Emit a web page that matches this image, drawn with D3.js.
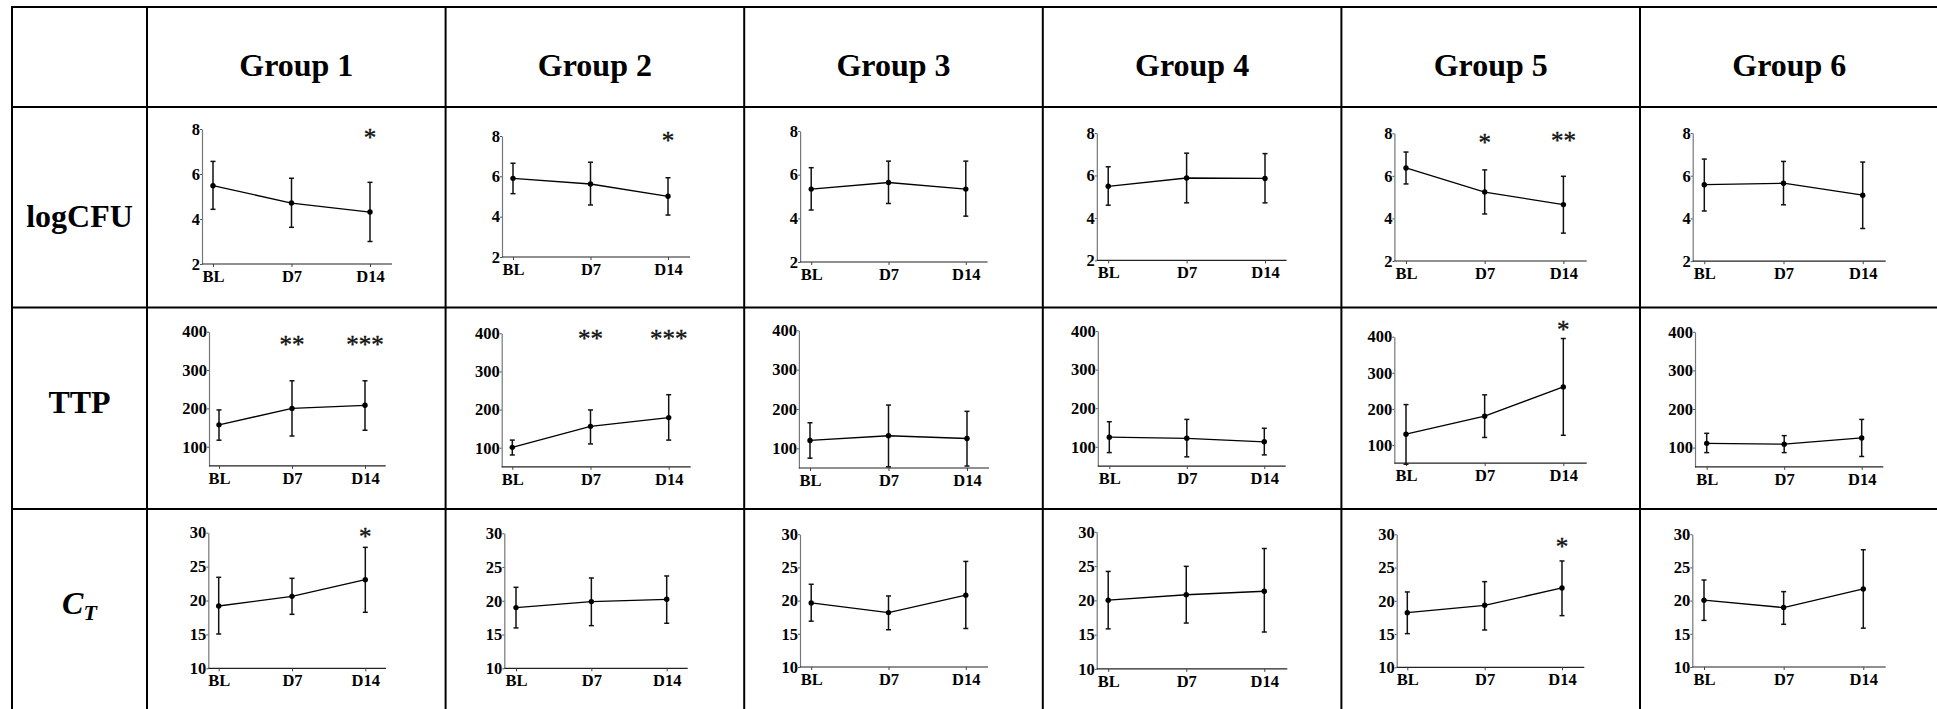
<!DOCTYPE html>
<html>
<head>
<meta charset="utf-8">
<script src="https://cdn.jsdelivr.net/npm/d3@7"></script>
<style>
  html, body { margin: 0; padding: 0; background: #fff; }
  svg { display: block; }
  text { font-family: "Liberation Serif", "Times New Roman", serif; }
</style>
</head>
<body>
<svg id="chart" width="1937" height="709"></svg>
<script>
// ---- data -------------------------------------------------------------
const categories = ["BL", "D7", "D14"];
const groups = ["Group 1", "Group 2", "Group 3", "Group 4", "Group 5", "Group 6"];
const metrics = ["logCFU", "TTP", "CT"];

const yDomains = { logCFU: [2, 8], TTP: [50, 400], CT: [10, 30] };
const yTicks = { logCFU: [2, 4, 6, 8], TTP: [100, 200, 300, 400], CT: [10, 15, 20, 25, 30] };

// mean, lower and upper end of the error bar, one row per group
const logCFUMean = [[5.48, 4.71, 4.31], [5.90, 5.62, 5.01], [5.34, 5.64, 5.34], [5.49, 5.88, 5.86], [6.37, 5.24, 4.65], [5.58, 5.65, 5.09]];
const logCFULow  = [[4.43, 3.63, 3.00], [5.14, 4.58, 4.08], [4.38, 4.68, 4.10], [4.60, 4.71, 4.71], [5.62, 4.21, 3.31], [4.35, 4.64, 3.53]];
const logCFUHigh = [[6.56, 5.81, 5.63], [6.65, 6.70, 5.93], [6.32, 6.62, 6.62], [6.41, 7.05, 7.03], [7.12, 6.28, 5.98], [6.78, 6.67, 6.64]];

const ttpMean = [[157, 200, 208], [101, 156, 179], [120, 132, 125], [125, 122, 113], [130, 180, 261], [111, 109, 125]];
const ttpLow  = [[117, 128, 143], [81, 110, 120], [75, 53, 55], [85, 74, 79], [47, 121, 127], [87, 87, 77]];
const ttpHigh = [[196, 272, 272], [120, 199, 239], [165, 210, 194], [165, 171, 148], [212, 239, 395], [137, 131, 173]];

const ctMean = [[19.19, 20.61, 23.07], [18.99, 19.88, 20.22], [19.65, 18.19, 20.82], [20.03, 20.82, 21.33], [18.22, 19.32, 21.93], [20.06, 18.95, 21.75]];
const ctLow  = [[15.06, 17.96, 18.26], [15.98, 16.32, 16.67], [16.90, 15.61, 15.80], [15.84, 16.69, 15.38], [15.06, 15.61, 17.77], [17.02, 16.43, 15.85]];
const ctHigh = [[23.42, 23.27, 27.84], [22.00, 23.38, 23.68], [22.46, 20.70, 25.90], [24.22, 24.96, 27.56], [21.33, 22.88, 25.99], [23.10, 21.35, 27.66]];

// significance marks: metric, group index, category, mark, height in data units
const sigMetric = ["logCFU", "logCFU", "logCFU", "logCFU", "TTP", "TTP", "TTP", "TTP", "TTP", "CT", "CT"];
const sigGroup  = [0, 1, 4, 4, 0, 0, 1, 1, 4, 0, 4];
const sigCat    = ["D14", "D14", "D7", "D14", "D7", "D14", "D7", "D14", "D14", "D14", "D14"];
const sigMark   = ["*", "*", "*", "**", "**", "***", "**", "***", "*", "*", "*"];
const sigLevel  = [7.82, 8.0, 7.77, 7.87, 378, 378, 398, 398, 432, 30.1, 28.84];

const series = {
  logCFU: { mean: logCFUMean, low: logCFULow, high: logCFUHigh },
  TTP:    { mean: ttpMean,    low: ttpLow,    high: ttpHigh },
  CT:     { mean: ctMean,     low: ctLow,     high: ctHigh }
};

// ---- layout -----------------------------------------------------------
const W = 1937, H = 709;
const tableLeft = 12, firstColX = 147, colW = 298.6;
const rowLines = [7, 107, 307.5, 509, 710];
// plot frame inside each cell, relative to the cell's top-left corner:
// [y-axis x, x-axis end, y of top value, y of bottom value, first category x, last category x]
const frames = {
  logCFU: [[55, 245, 22, 157, 66, 223], [56.4, 244.4, 29, 150, 67.4, 222.4], [55.9, 243.4, 24, 155, 67, 221.6],
           [54, 243.7, 26, 153.4, 65.4, 222.2], [53, 245.3, 26.3, 154, 64.6, 222], [52.7, 245.7, 26, 154.2, 64.3, 222.7]],
  TTP:    [[62, 238.7, 24.2, 158.4, 72, 218], [56.1, 245.1, 25.8, 159.3, 66.7, 223.1], [54.7, 244.8, 22.8, 160.5, 65.8, 222.8],
           [55, 242.9, 23.5, 158.6, 66.5, 221.5], [52.9, 245.3, 29.2, 155.6, 64.6, 221.9], [55, 243.3, 24.3, 159.4, 66.7, 221.7]],
  CT:     [[61.3, 239, 23.7, 159.3, 71.7, 218.3], [58.7, 242.1, 24.3, 159.3, 70.4, 221.1], [55.8, 243.8, 25.2, 158, 67, 221.6],
           [53.9, 244.5, 22.8, 159.9, 65.4, 221.5], [55.3, 242.9, 25.3, 158.3, 65.9, 220.6], [52.3, 245.7, 25.2, 158, 64, 223.3]]
};

const svg = d3.select("#chart");
svg.append("rect").attr("width", W).attr("height", H).attr("fill", "#fff");

const colX = i => firstColX + i * colW;

// ---- table grid -------------------------------------------------------
const grid = svg.append("g").attr("stroke", "#000").attr("stroke-width", 2);
[tableLeft].concat(d3.range(7).map(colX)).forEach(x => {
  grid.append("line").attr("x1", x).attr("x2", x).attr("y1", rowLines[0] - 1).attr("y2", H + 2);
});
rowLines.forEach(y => {
  grid.append("line").attr("x1", tableLeft - 1).attr("x2", W + 2).attr("y1", y).attr("y2", y);
});

// column headers
groups.forEach((g, i) => {
  svg.append("text")
    .attr("x", colX(i) + colW / 2).attr("y", 76)
    .attr("text-anchor", "middle")
    .attr("font-size", 32).attr("font-weight", "bold")
    .text(g);
});

// row headers
const rowLabelX = (tableLeft + firstColX) / 2;
svg.append("text").attr("x", rowLabelX).attr("y", 227)
  .attr("text-anchor", "middle").attr("font-size", 32).attr("font-weight", "bold").text("logCFU");
svg.append("text").attr("x", rowLabelX).attr("y", 413)
  .attr("text-anchor", "middle").attr("font-size", 32).attr("font-weight", "bold").text("TTP");
const ctLabel = svg.append("text").attr("x", rowLabelX).attr("y", 614)
  .attr("text-anchor", "middle").attr("font-size", 32).attr("font-weight", "bold").attr("font-style", "italic");
ctLabel.append("tspan").text("C");
ctLabel.append("tspan").attr("font-size", 22).attr("dy", 6).text("T");

// ---- panels -----------------------------------------------------------
const tickFont = 16.5;
metrics.forEach((m, r) => {
  const top = rowLines[r + 1];
  groups.forEach((g, c) => {
    const [ax, xEnd, yTopPx, yBotPx, firstX, lastX] = frames[m][c];
    const panel = svg.append("g").attr("transform", `translate(${colX(c)},${top})`);

    const x = d3.scalePoint().domain(categories).range([firstX, lastX]);
    const y = d3.scaleLinear().domain(yDomains[m]).range([yBotPx, yTopPx]);

    // y axis
    const yAxis = panel.append("g").attr("transform", `translate(${ax},0)`)
      .call(d3.axisLeft(y).tickValues(yTicks[m]).tickFormat(d3.format("d"))
        .tickSize(2).tickSizeOuter(0).tickPadding(0));
    yAxis.select(".domain").attr("stroke", "#777").attr("stroke-width", 1.2);
    yAxis.selectAll(".tick line").attr("stroke", "#555");
    yAxis.selectAll("text").attr("font-family", "Liberation Serif, serif")
      .attr("font-size", tickFont).attr("font-weight", "bold").attr("fill", "#000");

    // x axis: baseline across the frame plus category ticks
    panel.append("line").attr("x1", ax).attr("x2", xEnd)
      .attr("y1", yBotPx).attr("y2", yBotPx).attr("stroke", "#222").attr("stroke-width", 1.2);
    const xAxis = panel.append("g").attr("transform", `translate(0,${yBotPx})`)
      .call(d3.axisBottom(x).tickSize(3).tickPadding(3));
    xAxis.select(".domain").remove();
    xAxis.selectAll(".tick line").attr("stroke", "#444");
    xAxis.selectAll("text").attr("font-family", "Liberation Serif, serif")
      .attr("font-size", tickFont).attr("font-weight", "bold").attr("fill", "#000");

    const s = series[m];
    const pts = categories.map((k, i) => ({ k, mean: s.mean[c][i], lo: s.low[c][i], hi: s.high[c][i] }));

    // error bars
    const eb = panel.append("g").attr("stroke", "#111").attr("stroke-width", 1.5);
    pts.forEach(p => {
      const px = x(p.k);
      eb.append("line").attr("x1", px).attr("x2", px).attr("y1", y(p.lo)).attr("y2", y(p.hi));
      eb.append("line").attr("x1", px - 2.5).attr("x2", px + 2.5).attr("y1", y(p.lo)).attr("y2", y(p.lo));
      eb.append("line").attr("x1", px - 2.5).attr("x2", px + 2.5).attr("y1", y(p.hi)).attr("y2", y(p.hi));
    });

    // mean line and points
    panel.append("path").datum(pts)
      .attr("fill", "none").attr("stroke", "#000").attr("stroke-width", 1.3)
      .attr("d", d3.line().x(p => x(p.k)).y(p => y(p.mean)));
    panel.selectAll("circle.pt").data(pts).enter().append("circle")
      .attr("class", "pt").attr("cx", p => x(p.k)).attr("cy", p => y(p.mean))
      .attr("r", 2.7).attr("fill", "#000");

    // significance marks
    sigMark.forEach((mk, i) => {
      if (sigMetric[i] !== m || sigGroup[i] !== c) return;
      panel.append("text")
        .attr("x", x(sigCat[i])).attr("y", y(sigLevel[i]))
        .attr("dy", "0.5em")
        .attr("text-anchor", "middle")
        .attr("font-size", 25)
        .attr("fill", "#111")
        .attr("stroke", "#111").attr("stroke-width", 0.4)
        .text(mk);
    });
  });
});
</script>
</body>
</html>
